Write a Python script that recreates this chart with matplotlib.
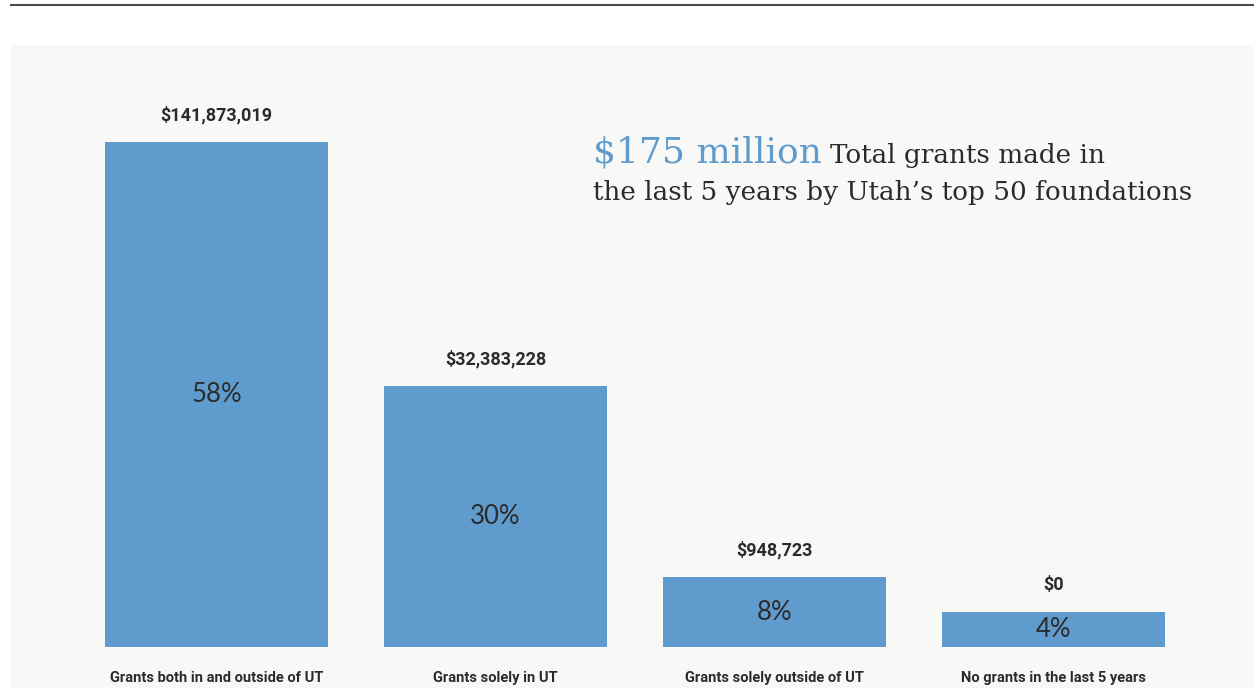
import matplotlib
matplotlib.use("Agg")
import matplotlib.pyplot as plt
from matplotlib.lines import Line2D
from matplotlib import font_manager

# Data
categories = [
    "Grants both in and outside of UT",
    "Grants solely in UT",
    "Grants solely outside of UT",
    "No grants in the last 5 years",
]
shares = [58, 30, 8, 4]
amounts = ["$141,873,019", "$32,383,228", "$948,723", "$0"]
headline_value = "$175 million"
headline_text = "Total grants made in"
headline_line2 = "the last 5 years by Utah\u2019s top 50 foundations"

BAR_BLUE = "#5f9ccd"
PANEL = "#f8f8f7"
INK = "#2b2b2b"

names = {f.name for f in font_manager.fontManager.ttflist}
label_font = [f for f in ["Roboto", "Open Sans"] if f in names] + ["DejaVu Sans"]
serif = [f for f in ["DejaVu Serif", "Liberation Serif"] if f in names]
pct_font = [f for f in ["Lato", "Open Sans", "Roboto"] if f in names] + ["DejaVu Sans"]

W, H = 1254, 688
fig = plt.figure(figsize=(W / 100, H / 100), dpi=100)
fig.patch.set_facecolor("white")

# Panel axes (pixel geometry converted to figure fractions)
px_left, px_top = 11, 45
ax = fig.add_axes([px_left / W, 0, 1 - px_left / W, 1 - px_top / H])
ax.set_facecolor(PANEL)
for s in ax.spines.values():
    s.set_visible(False)
ax.set_xticks([])
ax.set_yticks([])

step = 279.0
scale = 8.7  # px per percentage point
base_px = 647
ax.set_xlim(-(216.5 - px_left) / step, 3 + (W - 1053.5) / step)
ax.set_ylim(-(H - base_px) / scale, (base_px - px_top) / scale)

x = list(range(len(categories)))
bars = ax.bar(x, shares, width=0.8, color=BAR_BLUE, linewidth=0)

for xi, val, amt, cat in zip(x, shares, amounts, categories):
    ax.text(xi, val / 2, f"{val}%", ha="center", va="center",
            fontsize=18.5, family=pct_font, fontweight="normal", color=INK)
    ax.annotate(amt, xy=(xi, val), xytext=(0, 19.5), textcoords="offset points",
                ha="center", va="center", fontsize=13, fontweight="bold",
                family=label_font, color=INK)
    ax.annotate(cat, xy=(xi, 0), xytext=(0, -22.5), textcoords="offset points",
                ha="center", va="center", fontsize=10.5, fontweight="bold",
                family=label_font, color=INK)

# Headline
t1 = fig.text(593 / W, 1 - 163 / H, headline_value, fontsize=26, family=serif,
              color=BAR_BLUE, va="baseline", ha="left")
fig.canvas.draw()
bb = t1.get_window_extent()
fig.text((bb.x1 + 8) / W, 1 - 163 / H, headline_text, fontsize=18.9, family=serif,
         color=INK, va="baseline", ha="left")
fig.text(593 / W, 1 - 200 / H, headline_line2, fontsize=18.9, family=serif,
         color=INK, va="baseline", ha="left")

# Top rule
fig.add_artist(Line2D([px_left / W, 1], [1 - 5 / H, 1 - 5 / H],
                      transform=fig.transFigure, color="#4a4a4a", linewidth=1.5))

fig.savefig("out.png", dpi=100, facecolor="white")
